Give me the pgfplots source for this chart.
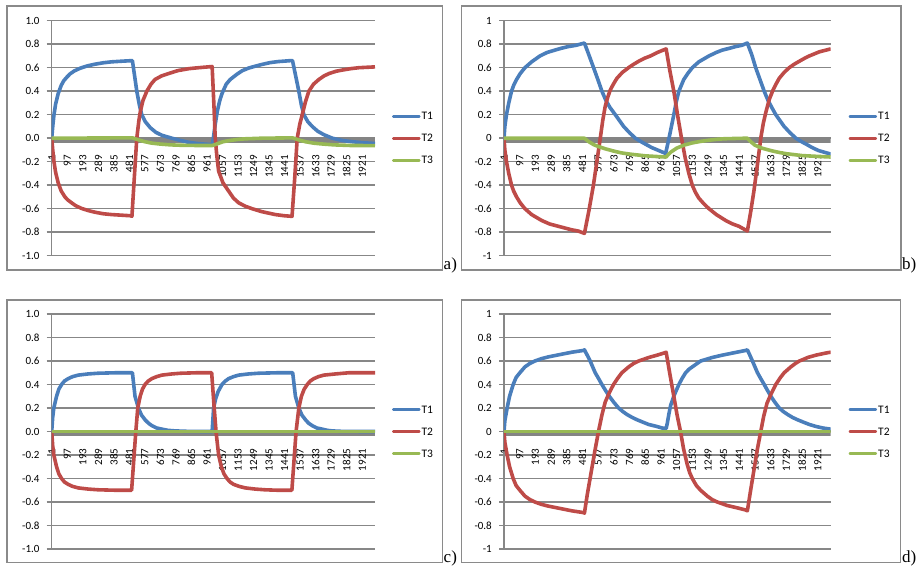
\documentclass[border=0pt]{standalone}
\usepackage{fontspec}
\setmainfont{Carlito}
\newfontfamily\lblfamily{Liberation Serif}
\usepackage{pgfplots}
\pgfplotsset{compat=1.18}
\definecolor{gridgray}{HTML}{878787}
\definecolor{bandgray}{HTML}{848484}
\definecolor{borderg}{HTML}{8A8A8A}
\definecolor{cT1}{HTML}{4A7EBB}
\definecolor{cT2}{HTML}{BE4B48}
\definecolor{cT3}{HTML}{98B954}
\newcommand\tickfont{\fontsize{11}{13}\selectfont}
\newcommand\legfont{\fontsize{11.5}{13}\selectfont}
\newcommand\lblfont{\lblfamily\fontsize{17}{19}\selectfont}
\pgfplotsset{
  excel/.style={
    scale only axis, height=235pt,
    xmin=0.9, xmax=2000, ymin=-1, ymax=1,
    axis x line*=middle, axis y line*=left,
    hide obscured x ticks=false,
    x axis line style={draw=none},
    y axis line style={draw=gridgray, line width=1.5pt},
    xtick={1,97,193,289,385,481,577,673,769,865,961,1057,1153,1249,1345,1441,1537,1633,1729,1825,1921},
    xticklabels={1,97,193,289,385,481,577,673,769,865,961,1057,1153,1249,1345,1441,1537,1633,1729,1825,1921},
    xtick style={draw=none},
    ytick={-1,-0.8,-0.6,-0.4,-0.2,0,0.2,0.4,0.6,0.8,1},
    ytick style={draw=gridgray, line width=1.5pt},
    tick align=outside, major tick length=5pt,
    ymajorgrids, grid style={draw=gridgray, line width=1.5pt},
    ticklabel style={font=\tickfont},
    yticklabel style={anchor=east, inner sep=0pt, xshift=-7pt},
    xticklabel style={inner sep=0pt, yshift=-12pt, rotate=90, anchor=east},
    legend style={draw=none, fill=none, anchor=west, font=\legfont, inner sep=0pt,
      row sep=13pt, nodes={inner sep=1pt, text height=7pt, text depth=0pt}},
    legend cell align=left,
    legend image code/.code={\draw[#1, line width=2.6pt, line cap=round] (0pt,0pt) -- (26pt,0pt);},
    every axis plot post/.append style={line width=3.6pt, line join=round},
  },
  ylabA/.style={yticklabels={-1.0,-0.8,-0.6,-0.4,-0.2,0.0,0.2,0.4,0.6,0.8,1.0}},
  ylabB/.style={yticklabels={-1,-0.8,-0.6,-0.4,-0.2,0,0.2,0.4,0.6,0.8,1}},
}
\newcommand\band{\fill[bandgray] ([yshift=1.5pt]axis cs:1,0) rectangle ([yshift=-4.5pt]axis cs:2000,0);}
\begin{document}
\begin{tikzpicture}
\path[use as bounding box] (0,0) rectangle (917pt,-565pt);
\draw[borderg, line width=1.3pt] (7pt,-6pt) rectangle (442.7pt,-270pt);
\draw[borderg, line width=1.3pt] (461.5pt,-6pt) rectangle (901pt,-270pt);
\draw[borderg, line width=1.3pt] (7pt,-300pt) rectangle (442.7pt,-562.5pt);
\draw[borderg, line width=1.3pt] (461.5pt,-300pt) rectangle (900.5pt,-562.5pt);
\node[anchor=base west, inner sep=0pt, font=\lblfont] at (443.5pt,-269.5pt) {a)};
\node[anchor=base west, inner sep=0pt, font=\lblfont] at (902pt,-269.5pt) {b)};
\node[anchor=base west, inner sep=0pt, font=\lblfont] at (443.5pt,-562.5pt) {c)};
\node[anchor=base west, inner sep=0pt, font=\lblfont] at (902pt,-562.5pt) {d)};

% ---------- a ----------
\begin{axis}[excel, ylabA, width=323.3pt, at={(51.7pt,-255.7pt)}, anchor=south west,
  legend style={at={(1.052,0.5)}}]
\band
\addplot[cT1] coordinates {(1,0) (8,0.11) (15,0.2) (25,0.29) (41,0.38) (60,0.45) (76,0.49) (95,0.52) (114,0.547) (140,0.572) (176,0.595) (220,0.615) (269,0.63) (320,0.642) (372,0.65) (430,0.655) (495,0.66)
 (500,0.66) (527,0.40) (545,0.27) (558,0.20) (580,0.14) (610,0.09) (645,0.05) (682,0.025) (744,0.0) (800,-0.02) (847,-0.035) (900,-0.045) (992,-0.055)
 (995,-0.057) (1010,0.10) (1025,0.23) (1040,0.32) (1054,0.38) (1080,0.46) (1105,0.5) (1147,0.545) (1180,0.575) (1219,0.597) (1260,0.613) (1302,0.628) (1350,0.643) (1400,0.652) (1477,0.66) (1490,0.66)
 (1529,0.40) (1545,0.28) (1560,0.20) (1585,0.14) (1612,0.10) (1645,0.06) (1684,0.03) (1736,0.0) (1800,-0.02) (1860,-0.03) (1920,-0.038) (2000,-0.045)};
\addlegendentry{T1}
\addplot[cT2] coordinates {(1,0) (8,-0.11) (15,-0.2) (25,-0.29) (41,-0.38) (60,-0.45) (83,-0.50) (100,-0.525) (124,-0.55) (150,-0.575) (186,-0.598) (230,-0.617) (269,-0.63) (320,-0.643) (372,-0.65) (430,-0.655) (490,-0.66) (497,-0.665)
 (512,-0.33) (527,0.0) (540,0.15) (548,0.22) (565,0.32) (589,0.40) (615,0.46) (640,0.50) (680,0.53) (723,0.55) (780,0.575) (850,0.592) (909,0.60) (993,0.61)
 (1005,0.25) (1012,0.0) (1022,-0.15) (1033,-0.28) (1060,-0.38) (1095,-0.45) (1125,-0.51) (1157,-0.55) (1200,-0.58) (1240,-0.60) (1300,-0.625) (1384,-0.65) (1440,-0.66) (1487,-0.665)
 (1504,-0.33) (1519,0.0) (1535,0.12) (1550,0.2) (1570,0.31) (1591,0.40) (1620,0.46) (1653,0.50) (1685,0.53) (1715,0.55) (1760,0.57) (1798,0.58) (1850,0.592) (1900,0.60) (2000,0.607)};
\addlegendentry{T2}
\addplot[cT3] coordinates {(1,0) (500,0.003) (540,-0.015) (577,-0.03) (620,-0.042) (673,-0.05) (740,-0.057) (800,-0.06) (900,-0.062) (995,-0.062) (1030,-0.045) (1060,-0.03) (1100,-0.02) (1153,-0.01) (1200,-0.005) (1300,0.0) (1490,0.003) (1530,-0.015) (1570,-0.03) (1620,-0.042) (1680,-0.05) (1750,-0.057) (1850,-0.062) (2000,-0.063)};
\addlegendentry{T3}
\end{axis}

% ---------- b ----------
\begin{axis}[excel, ylabB, width=326.7pt, at={(504pt,-255.7pt)}, anchor=south west,
  legend style={at={(1.054,0.5)}}]
\band
\addplot[cT1] coordinates {(1,0) (6,0.1) (16,0.2) (30,0.3) (47,0.4) (60,0.45) (78,0.5) (100,0.55) (129,0.6) (170,0.65) (221,0.7) (265,0.73) (313,0.75) (350,0.765) (395,0.78) (440,0.79) (493,0.81)
 (520,0.71) (549,0.60) (575,0.50) (600,0.40) (625,0.32) (650,0.26) (682,0.20) (710,0.145) (733,0.10) (770,0.045) (805,0.0) (840,-0.03) (866,-0.05) (905,-0.08) (948,-0.105) (990,-0.13)
 (1015,0.03) (1040,0.2) (1055,0.31) (1071,0.4) (1101,0.5) (1125,0.55) (1153,0.6) (1193,0.65) (1255,0.7) (1300,0.73) (1337,0.75) (1380,0.765) (1419,0.78) (1455,0.79) (1490,0.81)
 (1517,0.71) (1541,0.60) (1567,0.50) (1593,0.40) (1617,0.32) (1640,0.26) (1664,0.20) (1692,0.145) (1715,0.10) (1752,0.045) (1787,0.0) (1822,-0.03) (1849,-0.05) (1887,-0.08) (1925,-0.105) (2000,-0.135)};
\addlegendentry{T1}
\addplot[cT2] coordinates {(1,0) (6,-0.1) (16,-0.2) (30,-0.3) (47,-0.4) (60,-0.45) (78,-0.5) (100,-0.55) (129,-0.6) (170,-0.65) (231,-0.7) (280,-0.73) (334,-0.75) (375,-0.765) (416,-0.78) (455,-0.79) (493,-0.81)
 (520,-0.62) (548,-0.40) (570,-0.19) (590,0.0) (605,0.15) (620,0.27) (636,0.35) (651,0.41) (670,0.46) (692,0.51) (725,0.56) (763,0.60) (795,0.63) (825,0.655) (860,0.68) (897,0.70) (940,0.73) (993,0.76)
 (1015,0.58) (1040,0.40) (1065,0.18) (1087,0.0) (1110,-0.17) (1132,-0.3) (1153,-0.4) (1172,-0.46) (1193,-0.51) (1225,-0.56) (1255,-0.60) (1300,-0.65) (1357,-0.70) (1400,-0.73) (1439,-0.75) (1490,-0.79)
 (1510,-0.63) (1530,-0.45) (1552,-0.22) (1572,0.0) (1588,0.13) (1603,0.22) (1624,0.33) (1644,0.40) (1665,0.46) (1685,0.51) (1715,0.56) (1746,0.60) (1777,0.63) (1808,0.655) (1840,0.68) (1869,0.70) (1930,0.735) (2000,0.76)};
\addlegendentry{T2}
\addplot[cT3] coordinates {(1,0) (493,0) (520,-0.03) (550,-0.055) (577,-0.07) (620,-0.09) (673,-0.11) (720,-0.125) (769,-0.135) (865,-0.15) (961,-0.158) (992,-0.16)
 (1020,-0.12) (1057,-0.085) (1100,-0.06) (1153,-0.04) (1200,-0.028) (1249,-0.018) (1300,-0.01) (1345,-0.005) (1420,-0.002) (1490,0.0)
 (1515,-0.035) (1537,-0.06) (1580,-0.085) (1633,-0.105) (1680,-0.12) (1729,-0.132) (1825,-0.148) (1921,-0.155) (2000,-0.16)};
\addlegendentry{T3}
\end{axis}

% ---------- c ----------
\begin{axis}[excel, ylabA, width=323.3pt, at={(51.7pt,-549pt)}, anchor=south west,
  legend style={at={(1.052,0.5)}}]
\band
\addplot[cT1] coordinates {(1,0) (7,0.12) (14,0.2) (31,0.3) (45,0.36) (62,0.4) (80,0.43) (103,0.45) (130,0.467) (165,0.48) (227,0.49) (289,0.496) (400,0.5) (495,0.5)
 (500,0.5) (516,0.3) (537,0.2) (556,0.14) (578,0.1) (600,0.07) (620,0.05) (650,0.03) (682,0.02) (720,0.01) (765,0.005) (850,0.001) (990,0.0)
 (993,0.0) (1002,0.2) (1015,0.28) (1030,0.34) (1054,0.4) (1075,0.43) (1095,0.45) (1125,0.467) (1157,0.48) (1219,0.49) (1280,0.496) (1400,0.5) (1488,0.5)
 (1491,0.5) (1508,0.3) (1529,0.2) (1548,0.14) (1570,0.1) (1590,0.07) (1612,0.05) (1640,0.03) (1674,0.02) (1705,0.01) (1736,0.005) (1800,0.001) (2000,0.0)};
\addlegendentry{T1}
\addplot[cT2] coordinates {(1,0) (7,-0.12) (14,-0.2) (31,-0.3) (45,-0.36) (62,-0.4) (80,-0.43) (103,-0.45) (130,-0.467) (165,-0.48) (227,-0.49) (289,-0.496) (400,-0.5) (495,-0.5)
 (508,-0.25) (521,0.0) (533,0.2) (548,0.3) (562,0.36) (578,0.4) (598,0.43) (620,0.45) (650,0.467) (682,0.48) (744,0.49) (800,0.496) (900,0.5) (990,0.5)
 (1003,0.25) (1017,0.0) (1033,-0.2) (1050,-0.3) (1066,-0.36) (1085,-0.4) (1104,-0.43) (1126,-0.45) (1160,-0.467) (1198,-0.48) (1260,-0.49) (1320,-0.496) (1400,-0.5) (1486,-0.5)
 (1499,-0.25) (1512,0.0) (1529,0.2) (1545,0.3) (1562,0.36) (1581,0.4) (1600,0.43) (1622,0.45) (1650,0.467) (1684,0.48) (1756,0.49) (1839,0.5) (2000,0.5)};
\addlegendentry{T2}
\addplot[cT3] coordinates {(1,0) (1000,0) (2000,0)};
\addlegendentry{T3}
\end{axis}

% ---------- d ----------
\begin{axis}[excel, ylabB, width=326.7pt, at={(504pt,-549pt)}, anchor=south west,
  legend style={at={(1.054,0.5)}}]
\band
\addplot[cT1] coordinates {(1,0) (6,0.09) (20,0.2) (35,0.3) (57,0.4) (75,0.46) (98,0.5) (129,0.55) (160,0.58) (190,0.6) (230,0.62) (272,0.635) (344,0.655) (416,0.675) (487,0.69) (493,0.695)
 (510,0.65) (528,0.6) (559,0.5) (580,0.45) (600,0.4) (622,0.35) (645,0.3) (672,0.25) (702,0.2) (728,0.17) (753,0.145) (785,0.12) (815,0.1) (850,0.08) (886,0.06) (930,0.045) (968,0.03) (993,0.025)
 (1000,0.07) (1010,0.15) (1020,0.22) (1040,0.3) (1055,0.35) (1071,0.4) (1090,0.45) (1112,0.5) (1133,0.53) (1153,0.55) (1204,0.6) (1240,0.615) (1275,0.63) (1337,0.65) (1408,0.67) (1480,0.69) (1490,0.695)
 (1505,0.65) (1521,0.6) (1552,0.5) (1572,0.45) (1593,0.4) (1613,0.35) (1634,0.3) (1658,0.25) (1685,0.2) (1710,0.17) (1736,0.145) (1766,0.12) (1797,0.1) (1832,0.08) (1869,0.06) (1910,0.043) (1951,0.03) (2000,0.02)};
\addlegendentry{T1}
\addplot[cT2] coordinates {(1,0) (6,-0.09) (20,-0.2) (35,-0.3) (57,-0.4) (75,-0.46) (98,-0.5) (129,-0.55) (160,-0.58) (190,-0.6) (230,-0.62) (272,-0.635) (344,-0.655) (416,-0.675) (487,-0.69) (493,-0.695)
 (510,-0.54) (530,-0.38) (555,-0.18) (579,0.0) (600,0.14) (620,0.25) (645,0.33) (671,0.4) (695,0.45) (722,0.5) (764,0.55) (795,0.58) (825,0.6) (856,0.615) (887,0.63) (938,0.65) (985,0.67) (993,0.675)
 (1017,0.48) (1040,0.3) (1060,0.14) (1081,0.0) (1100,-0.15) (1122,-0.28) (1137,-0.35) (1153,-0.4) (1178,-0.46) (1204,-0.5) (1245,-0.55) (1275,-0.58) (1306,-0.6) (1337,-0.615) (1367,-0.63) (1429,-0.65) (1480,-0.668) (1490,-0.675)
 (1510,-0.5) (1530,-0.33) (1550,-0.16) (1572,0.0) (1590,0.13) (1610,0.24) (1635,0.32) (1664,0.4) (1690,0.455) (1715,0.5) (1756,0.55) (1785,0.58) (1808,0.6) (1835,0.615) (1859,0.63) (1910,0.65) (1971,0.668) (2000,0.675)};
\addlegendentry{T2}
\addplot[cT3] coordinates {(1,0) (1000,0) (2000,0)};
\addlegendentry{T3}
\end{axis}
\end{tikzpicture}
\end{document}
